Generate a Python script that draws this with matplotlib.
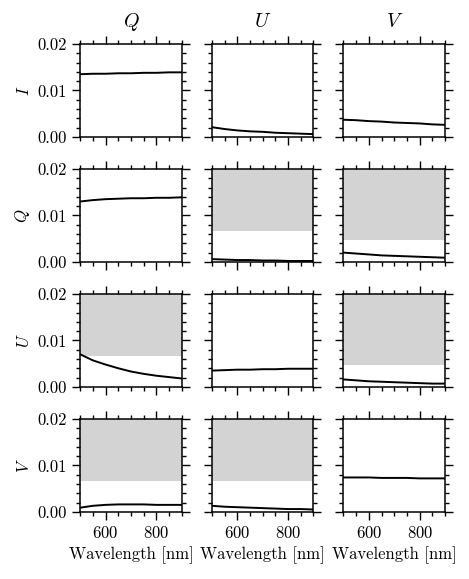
import numpy as np
import matplotlib
matplotlib.use("Agg")
import matplotlib.pyplot as plt
from matplotlib.ticker import MultipleLocator, FormatStrFormatter

plt.rcParams.update({
    "font.family": "serif",
    "font.serif": ["cmr10"],
    "mathtext.fontset": "cm",
    "axes.unicode_minus": False,
    "axes.formatter.use_mathtext": True,
    "font.size": 12,
    "axes.linewidth": 1.1,
})

# ── data ────────────────────────────────────────────────────────────────────
wavelength = [500, 550, 600, 650, 700, 750, 800, 850, 900]
rows = ["I", "Q", "U", "V"]
cols = ["Q", "U", "V"]

curves = {
    ("I", "Q"): [0.0135, 0.0136, 0.0136, 0.0137, 0.0137, 0.0138, 0.0138, 0.0139, 0.0139],
    ("I", "U"): [0.0021, 0.0017, 0.0014, 0.0012, 0.0011, 0.0009, 0.0008, 0.0007, 0.0006],
    ("I", "V"): [0.0037, 0.0036, 0.0034, 0.0033, 0.0031, 0.0030, 0.0029, 0.0027, 0.0026],
    ("Q", "Q"): [0.0130, 0.0133, 0.0135, 0.0136, 0.0137, 0.0137, 0.0138, 0.0138, 0.0139],
    ("Q", "U"): [0.0006, 0.0005, 0.0004, 0.0004, 0.0003, 0.0003, 0.0002, 0.0002, 0.0002],
    ("Q", "V"): [0.0020, 0.0018, 0.0016, 0.0014, 0.0013, 0.0012, 0.0011, 0.0010, 0.0009],
    ("U", "Q"): [0.0070, 0.0057, 0.0048, 0.0040, 0.0033, 0.0028, 0.0024, 0.0021, 0.0018],
    ("U", "U"): [0.0035, 0.0036, 0.0037, 0.0037, 0.0038, 0.0038, 0.0039, 0.0039, 0.0039],
    ("U", "V"): [0.0016, 0.0014, 0.0012, 0.0011, 0.0010, 0.0009, 0.0008, 0.0007, 0.0007],
    ("V", "Q"): [0.0009, 0.0013, 0.0015, 0.0016, 0.0016, 0.0016, 0.0015, 0.0015, 0.0015],
    ("V", "U"): [0.0013, 0.0011, 0.0010, 0.0009, 0.0008, 0.0007, 0.0006, 0.0006, 0.0005],
    ("V", "V"): [0.0074, 0.0074, 0.0074, 0.0073, 0.0073, 0.0073, 0.0072, 0.0072, 0.0072],
}

# lower edge of the grey (excluded) region, where there is one
limits = {
    ("Q", "U"): 0.0067, ("Q", "V"): 0.0047,
    ("U", "Q"): 0.0067, ("U", "V"): 0.0046,
    ("V", "Q"): 0.0067, ("V", "U"): 0.0067,
}

YMAX = 0.02

fig, axes = plt.subplots(4, 3, figsize=(4.69, 5.79), dpi=100,
                         sharex=True, sharey=True)
fig.subplots_adjust(left=0.171, right=0.949, top=0.924, bottom=0.116,
                    wspace=0.295, hspace=0.345)

for i, r in enumerate(rows):
    for j, c in enumerate(cols):
        ax = axes[i, j]
        if (r, c) in limits:
            ax.axhspan(limits[(r, c)], YMAX, color="lightgray", lw=0, zorder=0)
        ax.plot(wavelength, curves[(r, c)], color="k", lw=1.4)
        ax.set_xlim(500, 900)
        ax.set_ylim(0, YMAX)
        ax.xaxis.set_major_locator(MultipleLocator(200))
        ax.xaxis.set_minor_locator(MultipleLocator(50))
        ax.yaxis.set_major_locator(MultipleLocator(0.01))
        ax.yaxis.set_minor_locator(MultipleLocator(0.002))
        ax.tick_params(which="both", direction="out", top=True, right=True,
                       width=1.0)
        ax.tick_params(which="major", length=5.5, pad=4)
        ax.tick_params(which="minor", length=3)
        if i == 0:
            ax.set_title(f"${c}$", pad=12)
        if j == 0:
            ax.set_ylabel(f"${r}$")
            ax.yaxis.set_major_formatter(FormatStrFormatter("%.2f"))
        if i == 3:
            ax.set_xlabel("Wavelength [nm]")

fig.savefig("out.png", dpi=100)
